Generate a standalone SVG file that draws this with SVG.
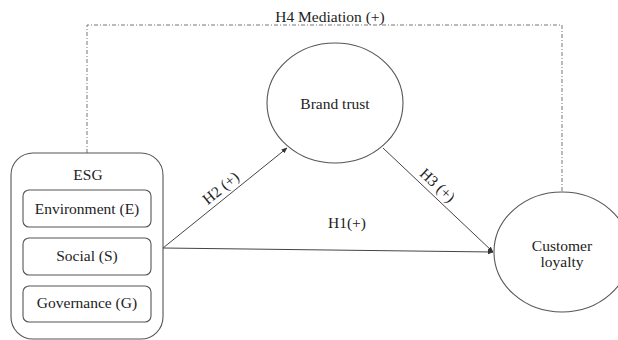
<svg xmlns="http://www.w3.org/2000/svg" width="618" height="340" viewBox="0 0 618 340">
<style>
  text { font-family: "Liberation Serif", "Times New Roman", serif; font-size: 15.5px; fill: #222; text-anchor: middle; }
  .box { fill: #fff; stroke: #555; stroke-width: 1.1; }
  .node { fill: #fff; stroke: #555; stroke-width: 1.1; }
  .edge { fill: none; stroke: #444; stroke-width: 1; }
  .med { fill: none; stroke: #777; stroke-width: 1; stroke-dasharray: 4 2 1 2; }
</style>
<defs>
  <marker id="arr" viewBox="0 0 10 10" refX="9" refY="5" markerWidth="6" markerHeight="6" orient="auto" markerUnits="userSpaceOnUse">
    <path d="M0,1 L10,5 L0,9 Z" fill="#333"/>
  </marker>
</defs>
<rect width="618" height="340" fill="#fff"/>
<g id="connectors">
  <polyline class="med" points="87,153 87,25 562,25 562,192"/>
  <line class="edge" x1="163" y1="248" x2="287" y2="148" marker-end="url(#arr)"/>
  <line class="edge" x1="163" y1="248" x2="493" y2="252" marker-end="url(#arr)"/>
  <line class="edge" x1="383" y1="148" x2="493" y2="252" marker-end="url(#arr)"/>
  <text x="330" y="22" font-size="16">H4 Mediation (+)</text>
  <text x="347" y="228">H1(+)</text>
  <text transform="translate(224,192) rotate(-39)" x="0" y="0">H2 (+)</text>
  <text transform="translate(434,189) rotate(43)" x="0" y="0">H3 (+)</text>
</g>
<g id="esg">
  <rect class="box" x="11" y="153" width="152" height="186" rx="22" ry="22"/>
  <text x="88" y="180">ESG</text>
  <g id="environment">
    <rect class="box" x="23" y="190" width="128" height="37" rx="6" ry="6"/>
    <text x="87" y="214">Environment (E)</text>
  </g>
  <g id="social">
    <rect class="box" x="23" y="238" width="128" height="37" rx="6" ry="6"/>
    <text x="87" y="261">Social (S)</text>
  </g>
  <g id="governance">
    <rect class="box" x="23" y="286" width="128" height="36" rx="6" ry="6"/>
    <text x="87" y="308">Governance (G)</text>
  </g>
</g>
<g id="brand-trust">
  <ellipse class="node" cx="335" cy="103" rx="68" ry="60"/>
  <text x="335" y="109">Brand trust</text>
</g>
<g id="customer-loyalty">
  <ellipse class="node" cx="562" cy="252" rx="68" ry="60"/>
  <text x="562" y="251">Customer</text>
  <text x="562" y="267">loyalty</text>
</g>
</svg>
